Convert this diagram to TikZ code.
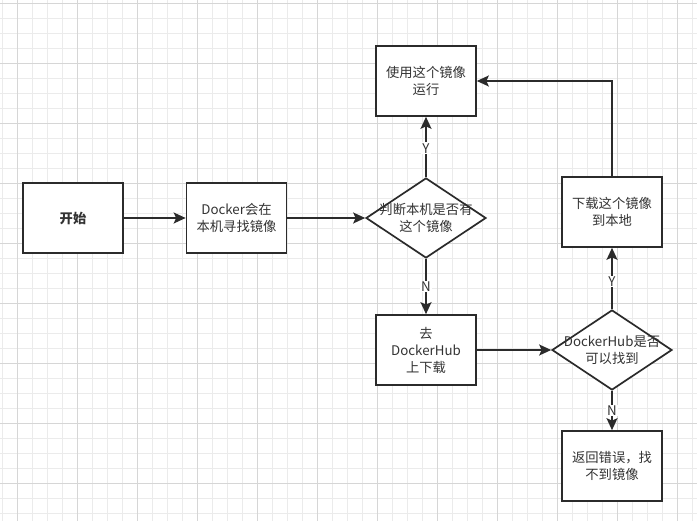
\documentclass[tikz,border=0pt]{standalone}
\usepackage{fontspec}
\setmainfont{Noto Sans CJK SC}
\usetikzlibrary{shapes.geometric,arrows.meta}
\definecolor{ink}{HTML}{2B2B2B}
\definecolor{txt}{HTML}{333333}
\definecolor{gminor}{HTML}{EBEBEB}
\definecolor{gmajor}{HTML}{D6D6D6}
\tikzset{
  box/.style={draw=ink,line width=1.7pt,fill=white,minimum width=100pt,minimum height=70pt,inner sep=0pt,align=center,text=txt,font=\fontsize{13.3}{17}\selectfont},
  dia/.style={draw=ink,line width=1.7pt,fill=white,diamond,minimum width=120pt,minimum height=80pt,inner sep=0pt},
  dtext/.style={text=txt,align=center,font=\fontsize{13.3}{17}\selectfont},
  conn/.style={draw=ink,line width=1.7pt,-{Stealth[length=12pt,width=11pt,inset=2.5pt]}},
  yn/.style={fill=white,text=txt,inner sep=1pt,font=\fontsize{13.3}{15}\selectfont}
}
\begin{document}
\begin{tikzpicture}[x=1pt,y=-1pt]
\useasboundingbox (0,0) rectangle (697,521);
\fill[white] (0,0) rectangle (697,521);
% grid
\foreach \x in {2,17,...,692} \draw[gminor,line width=0.8pt] (\x,0) -- (\x,521);
\foreach \y in {3,18,...,518} \draw[gminor,line width=0.8pt] (0,\y) -- (697,\y);
\foreach \x in {17,77,...,677} \draw[gmajor,line width=0.8pt] (\x,0) -- (\x,521);
\foreach \y in {3,63,...,483} \draw[gmajor,line width=0.8pt] (0,\y) -- (697,\y);
% nodes
\node[box,font=\fontsize{13.3}{17}\selectfont\bfseries] (start) at (73,218) {开始};
\node[box] (local) at (236.5,218) {Docker会在\\本机寻找镜像};
\node[dia,label={[dtext]center:判断本机是否有\\这个镜像}] (has) at (426,218) {};
\node[box] (run) at (426,81) {使用这个镜像\\运行};
\node[box] (hub) at (426,350) {去\\DockerHub\\上下载};
\node[dia,label={[dtext]center:DockerHub是否\\可以找到}] (find) at (612,350) {};
\node[box] (pull) at (612,212) {下载这个镜像\\到本地};
\node[box] (err) at (612,466) {返回错误，找\\不到镜像};
% connectors
\draw[conn] (start) -- (local);
\draw[conn] (local) -- (has);
\draw[conn] (has.north) -- node[yn,pos=0.48]{Y} (run.south);
\draw[conn] (has.south) -- node[yn,pos=0.5]{N} (hub.north);
\draw[conn] (hub) -- (find.west);
\draw[conn] (find.north) -- node[yn,pos=0.45]{Y} (pull.south);
\draw[conn] (find.south) -- node[yn,pos=0.5]{N} (err.north);
\draw[conn] (pull.north) |- (run.east);
\end{tikzpicture}
\end{document}
